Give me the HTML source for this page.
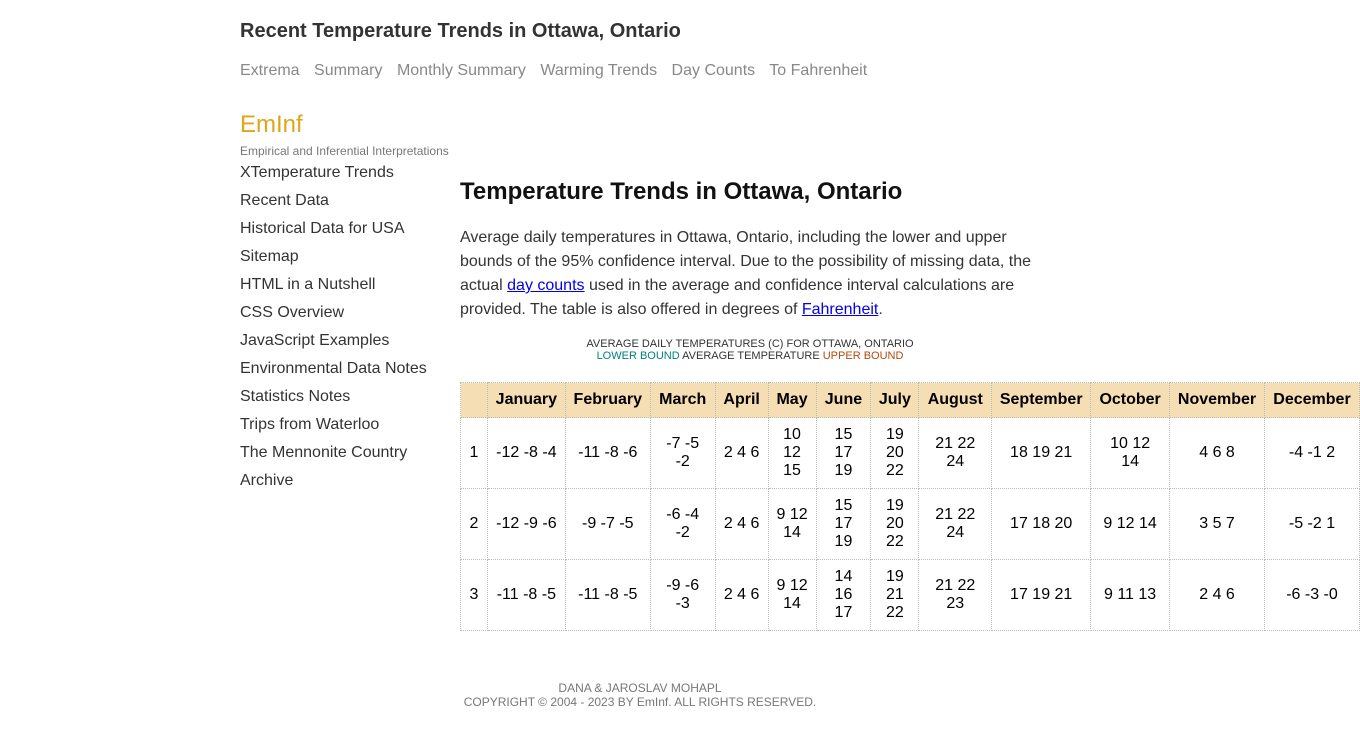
<!DOCTYPE html>
<html><head><meta charset="utf-8"><style>
body{margin:0;width:1360px;height:729px;overflow:hidden;background:#fff;font-family:"Liberation Sans",Arial,sans-serif;position:relative}
.abs{position:absolute}
h1.site{left:240px;top:20px;margin:0;font-size:20px;font-weight:bold;color:#333}
.nav{left:240px;top:62px;font-size:16px;color:#888;white-space:nowrap}
.nav span{margin-right:10px}
.brand{left:240px;top:111px;font-size:24px;color:#e0a51a}
.tag{left:240px;top:144px;font-size:12px;color:#777}
.side{left:240px;top:159px;font-size:16px;color:#333;line-height:28px}
h2{left:460px;top:178px;margin:0;font-size:24px;font-weight:bold;color:#111}
.intro{left:460px;top:226px;width:590px;font-size:16px;line-height:24px;color:#333}
.intro a{color:#00e;text-decoration:underline}
.cap{left:460px;top:338px;width:580px;text-align:center;font-size:11px;line-height:12px;color:#333}
table{position:absolute;left:460px;top:382px;border-collapse:collapse;table-layout:fixed;font-size:16px;color:#000}
td,th{border:1px dotted #bbb;text-align:center;padding:0;line-height:18px}
th{background:#f5deb3;height:34px;font-weight:bold}
td{height:70px}
.foot{left:460px;top:681px;width:360px;text-align:center;font-size:12px;line-height:14px;color:#777}
</style></head><body>
<h1 class="abs site">Recent Temperature Trends in Ottawa, Ontario</h1>
<div class="abs nav"><span>Extrema</span> <span>Summary</span> <span>Monthly Summary</span> <span>Warming Trends</span> <span>Day Counts</span> <span>To Fahrenheit</span></div>
<div class="abs brand">EmInf</div>
<div class="abs tag">Empirical and Inferential Interpretations</div>
<div class="abs side">
<div>XTemperature Trends</div>
<div>Recent Data</div>
<div>Historical Data for USA</div>
<div>Sitemap</div>
<div>HTML in a Nutshell</div>
<div>CSS Overview</div>
<div>JavaScript Examples</div>
<div>Environmental Data Notes</div>
<div>Statistics Notes</div>
<div>Trips from Waterloo</div>
<div>The Mennonite Country</div>
<div>Archive</div>
</div>
<h2 class="abs">Temperature Trends in Ottawa, Ontario</h2>
<div class="abs intro">Average daily temperatures in Ottawa, Ontario, including the lower and upper bounds of the 95% confidence interval. Due to the possibility of missing data, the actual <a>day counts</a> used in the average and confidence interval calculations are provided. The table is also offered in degrees of <a>Fahrenheit</a>.</div>
<div class="abs cap">AVERAGE DAILY TEMPERATURES (C) FOR OTTAWA, ONTARIO<br><span style="color:#008080">LOWER BOUND</span> AVERAGE TEMPERATURE <span style="color:#b04a10">UPPER BOUND</span></div>
<table>
<colgroup><col style="width:27px"><col style="width:78px"><col style="width:85px"><col style="width:65px"><col style="width:53px"><col style="width:48px"><col style="width:55px"><col style="width:48px"><col style="width:73px"><col style="width:99px"><col style="width:79px"><col style="width:95px"><col style="width:95px"></colgroup>
<tr><th></th><th>January</th><th>February</th><th>March</th><th>April</th><th>May</th><th>June</th><th>July</th><th>August</th><th>September</th><th>October</th><th>November</th><th>December</th></tr>
<tr><td>1</td><td>-12 -8 -4</td><td>-11 -8 -6</td><td>-7 -5<br>-2</td><td>2 4 6</td><td>10<br>12<br>15</td><td>15<br>17<br>19</td><td>19<br>20<br>22</td><td>21 22<br>24</td><td>18 19 21</td><td>10 12<br>14</td><td>4 6 8</td><td>-4 -1 2</td></tr>
<tr><td>2</td><td>-12 -9 -6</td><td>-9 -7 -5</td><td>-6 -4<br>-2</td><td>2 4 6</td><td>9 12<br>14</td><td>15<br>17<br>19</td><td>19<br>20<br>22</td><td>21 22<br>24</td><td>17 18 20</td><td>9 12 14</td><td>3 5 7</td><td>-5 -2 1</td></tr>
<tr><td>3</td><td>-11 -8 -5</td><td>-11 -8 -5</td><td>-9 -6<br>-3</td><td>2 4 6</td><td>9 12<br>14</td><td>14<br>16<br>17</td><td>19<br>21<br>22</td><td>21 22<br>23</td><td>17 19 21</td><td>9 11 13</td><td>2 4 6</td><td>-6 -3 -0</td></tr>
</table>
<div class="abs foot">DANA &amp; JAROSLAV MOHAPL<br>COPYRIGHT © 2004 - 2023 BY EmInf. ALL RIGHTS RESERVED.</div>
</body></html>
